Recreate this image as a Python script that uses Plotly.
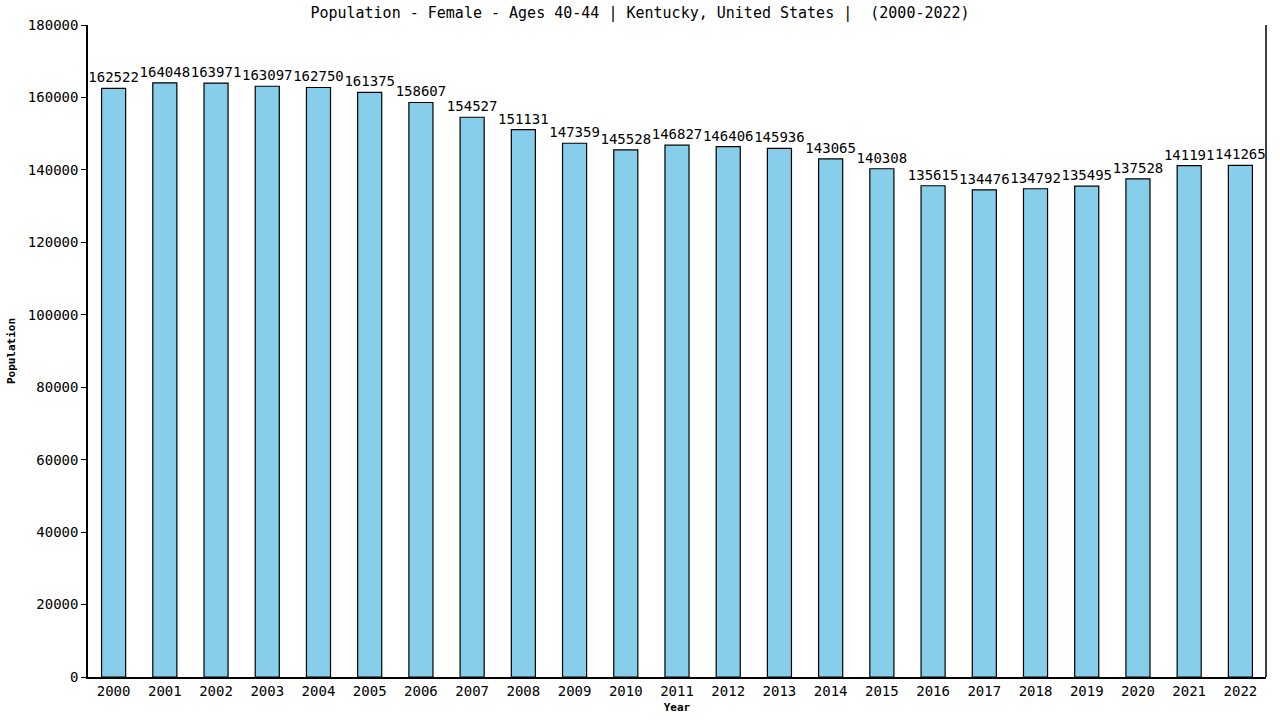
import plotly.graph_objects as go

years = [str(y) for y in range(2000, 2023)]
population = [162522, 164048, 163971, 163097, 162750, 161375, 158607, 154527,
              151131, 147359, 145528, 146827, 146406, 145936, 143065, 140308,
              135615, 134476, 134792, 135495, 137528, 141191, 141265]
y_ticks = list(range(0, 180001, 20000))

mono = "DejaVu Sans Mono"

fig = go.Figure(go.Bar(
    x=years, y=population,
    text=population, textposition='outside', cliponaxis=False,
    constraintext='none', textangle=0,
    textfont=dict(family=mono, size=14, color='black'),
    marker=dict(color='#87CEEB', line=dict(color='black', width=1.2)),
    width=0.47,
))

fig.update_layout(
    width=1280, height=720,
    plot_bgcolor='white', paper_bgcolor='white',
    margin=dict(l=88, r=14, t=25, b=43, autoexpand=False),
    title=dict(text='Population - Female - Ages 40-44 | Kentucky, United States |  (2000-2022)',
               x=0.5, xanchor='center', y=0.982, yanchor='middle',
               font=dict(family=mono, size=15, color='black')),
    showlegend=False,
)
fig.update_xaxes(
    title=dict(text='<b>Year</b>', font=dict(family=mono, size=11, color='black'), standoff=6),
    tickfont=dict(family=mono, size=14, color='black'),
    showline=True, linecolor='black', linewidth=1.5, mirror=False,
    ticks='', range=[-0.5, 22.5], showgrid=False, automargin=False,
)
fig.update_yaxes(
    title=dict(text='<b>Population</b>', font=dict(family=mono, size=11, color='black'), standoff=10),
    tickfont=dict(family=mono, size=14, color='black'),
    tickvals=y_ticks, ticktext=[str(v) for v in y_ticks],
    range=[0, 180000], showline=True, linecolor='black', linewidth=1.5,
    ticks='outside', ticklen=5, tickcolor='black', showgrid=False, zeroline=False,
    automargin=False,
)
# right border line
fig.add_shape(type='line', xref='paper', yref='paper', x0=1, x1=1, y0=0, y1=1,
              line=dict(color='black', width=1.5))

# drop the default 8px page margin so the figure fills the window
fig.write_html("out.html", config={'displayModeBar': False},
               post_script="document.body.style.margin='0px';")
